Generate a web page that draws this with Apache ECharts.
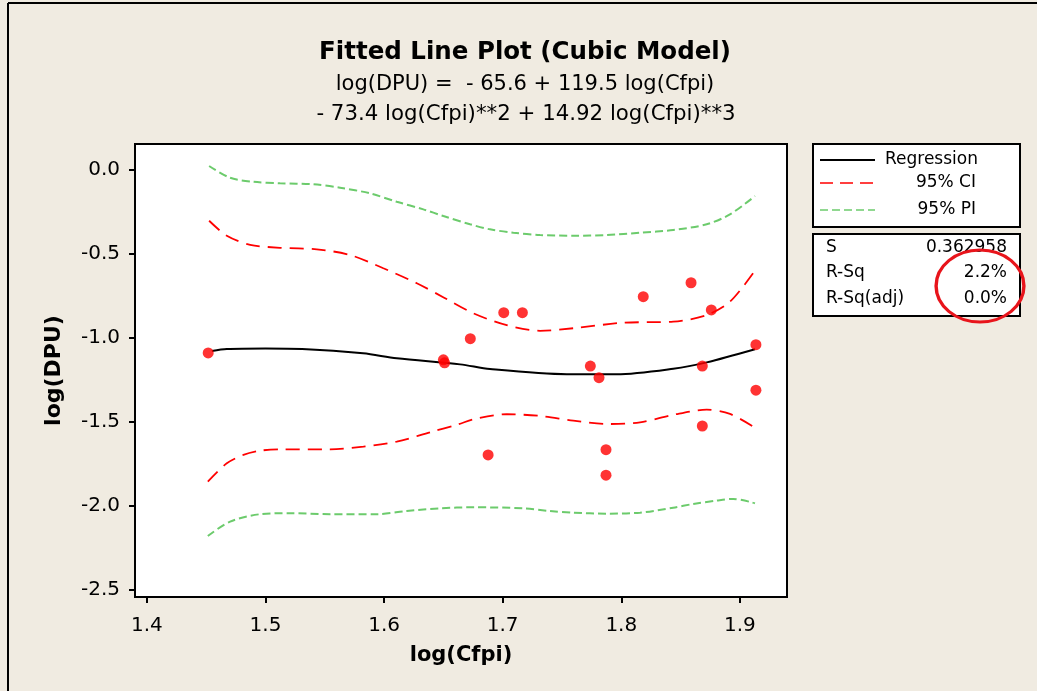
<!DOCTYPE html>
<html>
<head>
<meta charset="utf-8">
<script src="https://cdn.jsdelivr.net/npm/echarts@6/dist/echarts.min.js"></script>
<style>
html,body{margin:0;padding:0;background:#F0EBE1;overflow:hidden;}
#chart{width:1037px;height:691px;}
</style>
</head>
<body>
<div id="chart"></div>
<script>
const xTicks = [1.4, 1.5, 1.6, 1.7, 1.8, 1.9];
const yTicks = [0.0, -0.5, -1.0, -1.5, -2.0, -2.5];

const obsX = [1.4517, 1.6500, 1.6510, 1.6727, 1.7009, 1.7166, 1.6877, 1.7739, 1.7812, 1.7871, 1.7871, 1.8185, 1.8588, 1.8759, 1.8683, 1.8683, 1.9135, 1.9135];
const obsY = [-1.089, -1.130, -1.148, -1.004, -0.849, -0.849, -1.696, -1.167, -1.236, -1.665, -1.817, -0.754, -0.671, -0.833, -1.167, -1.524, -1.040, -1.311];

const fitX = [1.4548, 1.4674, 1.5000, 1.5309, 1.5823, 1.6107, 1.6641, 1.6893, 1.7540, 1.7961, 1.8438, 1.8720, 1.9127];
const fitY = [-1.077, -1.065, -1.062, -1.065, -1.091, -1.121, -1.157, -1.185, -1.216, -1.216, -1.183, -1.145, -1.067];

const ciUpX = [1.4525, 1.4674, 1.4871, 1.5123, 1.5433, 1.5714, 1.5994, 1.6276, 1.6506, 1.6753, 1.7034, 1.7315, 1.7595, 1.8017, 1.8438, 1.8720, 1.8916, 1.9127];
const ciUpY = [-0.302, -0.391, -0.445, -0.463, -0.472, -0.506, -0.585, -0.674, -0.760, -0.853, -0.924, -0.957, -0.942, -0.909, -0.903, -0.863, -0.784, -0.599];

const ciLoX = [1.4514, 1.4674, 1.4814, 1.4955, 1.5123, 1.5545, 1.5826, 1.6107, 1.6388, 1.6626, 1.6753, 1.7034, 1.7315, 1.7595, 1.7877, 1.8158, 1.8438, 1.8720, 1.8916, 1.9127];
const ciLoY = [-1.855, -1.746, -1.696, -1.671, -1.663, -1.663, -1.647, -1.617, -1.561, -1.514, -1.484, -1.454, -1.464, -1.492, -1.512, -1.502, -1.457, -1.427, -1.452, -1.534];

const piUpX = [1.4525, 1.4702, 1.4898, 1.5123, 1.5404, 1.5629, 1.5882, 1.6107, 1.6331, 1.6500, 1.6725, 1.6893, 1.7090, 1.7315, 1.7595, 1.7877, 1.8158, 1.8438, 1.8720, 1.8916, 1.9127];
const piUpY = [0.024, -0.046, -0.070, -0.079, -0.085, -0.105, -0.139, -0.189, -0.234, -0.274, -0.323, -0.353, -0.373, -0.387, -0.391, -0.387, -0.373, -0.357, -0.323, -0.264, -0.155];

const piLoX = [1.4514, 1.4702, 1.4955, 1.5208, 1.5545, 1.5938, 1.6191, 1.6472, 1.6753, 1.7174, 1.7399, 1.7595, 1.7877, 1.8158, 1.8438, 1.8607, 1.8804, 1.8944, 1.9127];
const piLoY = [-2.179, -2.093, -2.049, -2.043, -2.049, -2.049, -2.030, -2.014, -2.008, -2.014, -2.030, -2.040, -2.046, -2.040, -2.010, -1.988, -1.968, -1.958, -1.984];

const titleText = 'Fitted Line Plot (Cubic Model)';
const eqLine1 = 'log(DPU) =  - 65.6 + 119.5 log(Cfpi)';
const eqLine2 = '- 73.4 log(Cfpi)**2 + 14.92 log(Cfpi)**3';
const legendNames = ['Regression', '95% CI', '95% PI'];
const statNames = ['S', 'R-Sq', 'R-Sq(adj)'];
const statValues = ['0.362958', '2.2%', '0.0%'];

const zip = (xs, ys) => xs.map((x, i) => [x, ys[i]]);
const FONT = "'DejaVu Sans', Verdana, sans-serif";
const RED = '#FF0000';
const GREEN = '#6CCB6C';

const chart = echarts.init(document.getElementById('chart'), null, {renderer: 'canvas'});

const graphic = [
  {type: 'line', shape: {x1: 8, y1: 3, x2: 1037, y2: 3}, style: {stroke: '#000', lineWidth: 2}},
  {type: 'line', shape: {x1: 8, y1: 3, x2: 8, y2: 691}, style: {stroke: '#000', lineWidth: 2}},
  {type: 'text', x: 525, y: 53, style: {text: titleText, font: 'bold 24.5px ' + FONT, fill: '#000', align: 'center', verticalAlign: 'middle'}},
  {type: 'text', x: 525, y: 85, style: {text: eqLine1, font: '21px ' + FONT, fill: '#000', align: 'center', verticalAlign: 'middle'}},
  {type: 'text', x: 526, y: 114, style: {text: eqLine2, font: '21.3px ' + FONT, fill: '#000', align: 'center', verticalAlign: 'middle'}},
  {type: 'rect', shape: {x: 813, y: 144, width: 207, height: 83}, style: {fill: '#fff', stroke: '#000', lineWidth: 2}},
  {type: 'line', shape: {x1: 820, y1: 160, x2: 875, y2: 160}, style: {stroke: '#000', lineWidth: 1.8}},
  {type: 'line', shape: {x1: 820, y1: 183, x2: 875, y2: 183}, style: {stroke: RED, lineWidth: 1.6, lineDash: [13, 7]}},
  {type: 'line', shape: {x1: 820, y1: 210, x2: 875, y2: 210}, style: {stroke: GREEN, lineWidth: 1.6, lineDash: [8, 4]}},
  {type: 'text', x: 885, y: 160, style: {text: legendNames[0], font: '17px ' + FONT, fill: '#000', align: 'left', verticalAlign: 'middle'}},
  {type: 'text', x: 976, y: 183, style: {text: legendNames[1], font: '17px ' + FONT, fill: '#000', align: 'right', verticalAlign: 'middle'}},
  {type: 'text', x: 976, y: 210, style: {text: legendNames[2], font: '17px ' + FONT, fill: '#000', align: 'right', verticalAlign: 'middle'}},
  {type: 'rect', shape: {x: 813, y: 234, width: 207, height: 82}, style: {fill: '#fff', stroke: '#000', lineWidth: 2}},
  {type: 'text', x: 826, y: 248, style: {text: statNames[0], font: '17px ' + FONT, fill: '#000', align: 'left', verticalAlign: 'middle'}},
  {type: 'text', x: 826, y: 273, style: {text: statNames[1], font: '17px ' + FONT, fill: '#000', align: 'left', verticalAlign: 'middle'}},
  {type: 'text', x: 826, y: 299, style: {text: statNames[2], font: '17px ' + FONT, fill: '#000', align: 'left', verticalAlign: 'middle'}},
  {type: 'text', x: 1007, y: 248, style: {text: statValues[0], font: '17px ' + FONT, fill: '#000', align: 'right', verticalAlign: 'middle'}},
  {type: 'text', x: 1007, y: 273, style: {text: statValues[1], font: '17px ' + FONT, fill: '#000', align: 'right', verticalAlign: 'middle'}},
  {type: 'text', x: 1007, y: 299, style: {text: statValues[2], font: '17px ' + FONT, fill: '#000', align: 'right', verticalAlign: 'middle'}},
  {type: 'circle', x: 980, y: 286, scaleX: 1.22, scaleY: 1, z: 100, shape: {cx: 0, cy: 0, r: 36}, style: {fill: 'none', stroke: '#E8141B', lineWidth: 2.8}}
];

const option = {
  backgroundColor: '#F0EBE1',
  animation: false,
  grid: {left: 135, top: 144, right: 250, bottom: 94, show: true, backgroundColor: '#fff', borderColor: '#000', borderWidth: 2},
  xAxis: {
    type: 'value', min: 1.39, max: 1.9397,
    name: 'log(Cfpi)', nameLocation: 'middle', nameGap: 48,
    nameTextStyle: {fontFamily: FONT, fontSize: 21, fontWeight: 'bold', color: '#000'},
    axisLine: {show: true, onZero: false, lineStyle: {color: '#000', width: 2}},
    axisTick: {show: true, length: 6, lineStyle: {color: '#000', width: 2}, customValues: xTicks},
    axisLabel: {fontFamily: FONT, fontSize: 20, color: '#000', margin: 19, customValues: xTicks, formatter: v => v.toFixed(1)},
    splitLine: {show: false}
  },
  yAxis: {
    type: 'value', min: -2.542, max: 0.155,
    name: 'log(DPU)', nameLocation: 'middle', nameGap: 70, nameRotate: 90,
    nameTextStyle: {fontFamily: FONT, fontSize: 22, fontWeight: 'bold', color: '#000'},
    axisLine: {show: true, onZero: false, lineStyle: {color: '#000', width: 2}},
    axisTick: {show: true, length: 6, lineStyle: {color: '#000', width: 2}, customValues: yTicks},
    axisLabel: {fontFamily: FONT, fontSize: 20, color: '#000', margin: 15, customValues: yTicks, formatter: v => v.toFixed(1)},
    splitLine: {show: false}
  },
  series: [
    {name: '95% PI upper', type: 'line', data: zip(piUpX, piUpY), smooth: 0.3, symbol: 'none', lineStyle: {color: GREEN, width: 2, type: [8, 4]}, z: 2},
    {name: '95% PI lower', type: 'line', data: zip(piLoX, piLoY), smooth: 0.3, symbol: 'none', lineStyle: {color: GREEN, width: 2, type: [8, 4]}, z: 2},
    {name: '95% CI upper', type: 'line', data: zip(ciUpX, ciUpY), smooth: 0.3, symbol: 'none', lineStyle: {color: RED, width: 1.8, type: [14, 8]}, z: 3},
    {name: '95% CI lower', type: 'line', data: zip(ciLoX, ciLoY), smooth: 0.3, symbol: 'none', lineStyle: {color: RED, width: 1.8, type: [14, 8]}, z: 3},
    {name: 'Regression', type: 'line', data: zip(fitX, fitY), smooth: 0.3, symbol: 'none', lineStyle: {color: '#000', width: 2}, z: 4},
    {name: 'Observed', type: 'scatter', data: zip(obsX, obsY), symbol: 'circle', symbolSize: 11, itemStyle: {color: RED}, z: 5}
  ],
  graphic: graphic
};
chart.setOption(option);
</script>
</body>
</html>
